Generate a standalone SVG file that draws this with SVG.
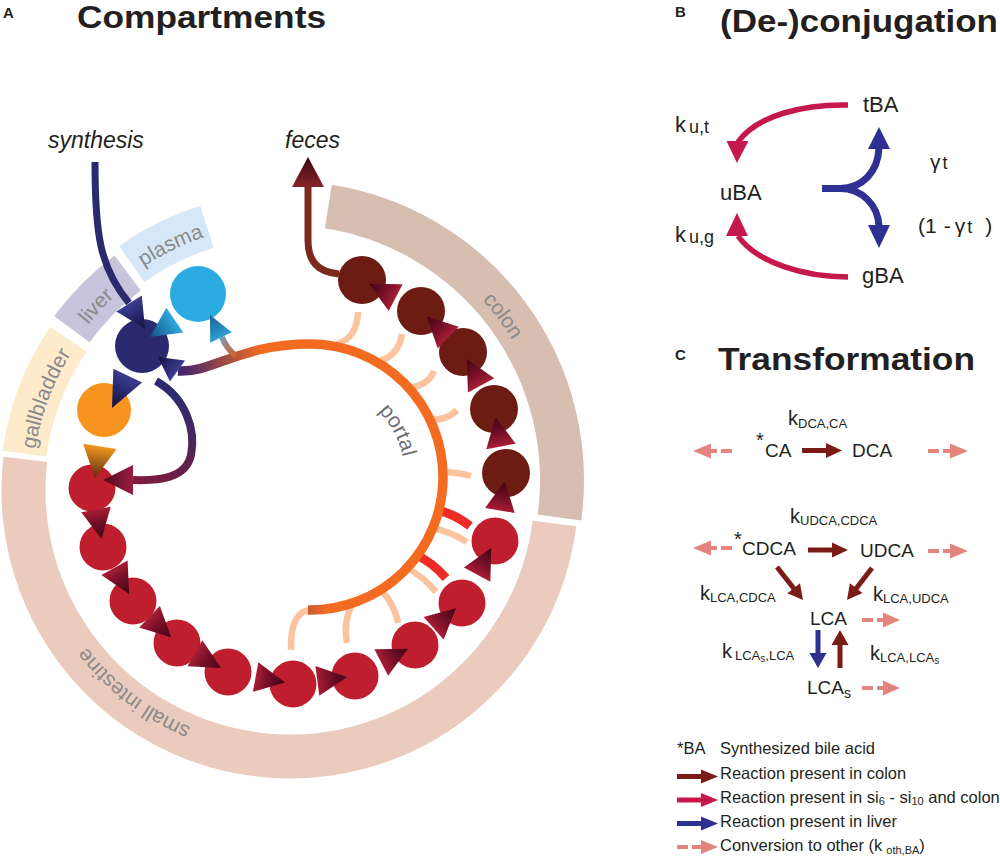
<svg xmlns="http://www.w3.org/2000/svg" width="1000" height="866" viewBox="0 0 1000 866">
<style>
text{font-family:"Liberation Sans",Arial,Helvetica,sans-serif;fill:#231f20}
.title{font-size:32px;font-weight:bold}
.plab{font-size:15px;font-weight:bold}
.ital{font-size:23px;font-style:italic}
.band{fill:none;stroke-width:44}
.blab{font-size:21px;fill:#8a8a8a}
.plbl{font-size:21px;fill:#6d6e70}
.peach{fill:none;stroke:#fbc49f;stroke-width:6.5}
.rstub{fill:none;stroke:#ee2b24;stroke-width:9}
.si{fill:#be1e2d}
.co{fill:#6d1c13}
.chain{fill:url(#gChain)}
.bnm{font-size:22px}
.bs{font-size:18px}
.nm{font-size:19px}
.kk{font-size:20px}
.sub{font-size:13px}
.leg{font-size:16.5px}
.lsub{font-size:11px}
.dash{fill:none;stroke:#e3847f;stroke-width:4;stroke-dasharray:11 4}
.pink{fill:#e3847f}
.drl{fill:none;stroke:#7b1b15;stroke-width:5}
.dr{fill:#7b1b15}
.crl{fill:none;stroke:#c5194c;stroke-width:5}
.cr{fill:#c5194c}
.nvl{fill:none;stroke:#2e3192;stroke-width:5}
.nv{fill:#2e3192}
</style>
<defs>
<linearGradient id="gChain" x1="0" y1="0" x2="1" y2="0"><stop offset="0" stop-color="#a81d36"/><stop offset="0.4" stop-color="#761027"/><stop offset="1" stop-color="#3f0515"/></linearGradient>
<linearGradient id="gNavy" x1="0" y1="0" x2="1" y2="0"><stop offset="0" stop-color="#3b3d91"/><stop offset="1" stop-color="#111140"/></linearGradient>
<linearGradient id="gPlasma" x1="0" y1="0" x2="1" y2="0"><stop offset="0" stop-color="#2fa9df"/><stop offset="1" stop-color="#12507d"/></linearGradient>
<linearGradient id="gPlasmaUp" x1="0" y1="0" x2="1" y2="0"><stop offset="0" stop-color="#2f9fd6"/><stop offset="1" stop-color="#175f8f"/></linearGradient>
<linearGradient id="gGB" x1="0" y1="0" x2="1" y2="0"><stop offset="0" stop-color="#f0961f"/><stop offset="1" stop-color="#5e2a0c"/></linearGradient>
<linearGradient id="gLS" x1="0" y1="0" x2="1" y2="0"><stop offset="0" stop-color="#9b1d42"/><stop offset="1" stop-color="#4c0a1c"/></linearGradient>
<linearGradient id="gFec" x1="0" y1="0" x2="1" y2="0"><stop offset="0" stop-color="#862526"/><stop offset="1" stop-color="#3c0512"/></linearGradient>
<linearGradient id="gPortal" gradientUnits="userSpaceOnUse" x1="182" y1="370" x2="262" y2="350"><stop offset="0" stop-color="#45266c"/><stop offset="1" stop-color="#f26b21"/></linearGradient>
<linearGradient id="gLS1" gradientUnits="userSpaceOnUse" x1="175" y1="395" x2="140" y2="482"><stop offset="0" stop-color="#2d2b6e"/><stop offset="1" stop-color="#7d1b3d"/></linearGradient>
<linearGradient id="gStem" gradientUnits="userSpaceOnUse" x1="236" y1="356" x2="222" y2="337"><stop offset="0" stop-color="#d2602b"/><stop offset="1" stop-color="#7d98b0"/></linearGradient>
<path id="ah" d="M0,0 L-30,-15 L-30,15 Z"/>
<path id="tp-si" d="M245.37,743.1 A257,257 0 0 1 57.08,598.61"/>
<path id="tp-gb" d="M32.98,467.51 A258,258 0 0 1 81.27,338.35"/>
<path id="tp-lv" d="M60.63,365.46 A261,261 0 0 1 153.63,267.46"/>
<path id="tp-pl" d="M114.83,288.49 A267,267 0 0 1 239.05,227.9"/>
<path id="tp-co" d="M389.33,234.23 A267,267 0 0 1 550.01,447.46"/>
<path id="tp-po" d="M360.34,396.44 A95,95 0 0 1 404.94,480.32"/>
</defs>

<!-- Panel A -->
<text x="3" y="18" class="plab">A</text>
<text x="77" y="28" class="title" textLength="249" lengthAdjust="spacingAndGlyphs">Compartments</text>
<text x="48" y="148" class="ital">synthesis</text>
<text x="285" y="148" class="ital">feces</text>

<g id="bands">
<path class="band" stroke="#ebcbbd" d="M554.4,523.4 A266.5,266.5 0 0 1 257.52,754.51 A266.5,266.5 0 0 1 25.27,459.37"/>
<path class="band" stroke="#fdebcb" d="M24.48,453.63 A268,268 0 0 1 68.34,339.36"/>
<path class="band" stroke="#c7c4dc" d="M71.87,329.18 A271,271 0 0 1 127.67,273"/>
<path class="band" stroke="#d6e8f7" d="M131.69,263.91 A276,276 0 0 1 207,226.77"/>
<path class="band" stroke="#d8bdb1" d="M328.33,206.41 A277,277 0 0 1 559.44,517.59"/>
<text class="blab"><textPath href="#tp-si" startOffset="50%" text-anchor="middle">small intestine</textPath></text>
<text class="blab"><textPath href="#tp-gb" startOffset="50%" text-anchor="middle">gallbladder</textPath></text>
<text class="blab"><textPath href="#tp-lv" startOffset="50%" text-anchor="middle">liver</textPath></text>
<text class="blab"><textPath href="#tp-pl" startOffset="50%" text-anchor="middle">plasma</textPath></text>
<text class="blab"><textPath href="#tp-co" startOffset="50%" text-anchor="middle">colon</textPath></text>
<text class="plbl"><textPath href="#tp-po" startOffset="50%" text-anchor="middle">portal</textPath></text>
</g>

<g id="liver"><circle cx="142" cy="346" r="27" fill="#2b2a6e"/></g>
<g id="plasma"><circle cx="198" cy="294" r="28" fill="#2aabe2"/></g>
<g id="gallbladder"><circle cx="104" cy="410" r="27" fill="#f7941d"/></g>
<g id="si1"><circle class="si" cx="92" cy="488" r="23.5"/></g>
<g id="si2"><circle class="si" cx="103" cy="547" r="23.5"/></g>
<g id="si3"><circle class="si" cx="133" cy="601" r="23.5"/></g>
<g id="si4"><circle class="si" cx="177" cy="643" r="23.5"/></g>
<g id="si5"><circle class="si" cx="228" cy="672" r="23.5"/></g>
<g id="si6"><circle class="si" cx="293" cy="684" r="23.5"/></g>
<g id="si7"><circle class="si" cx="355" cy="676" r="23.5"/></g>
<g id="si8"><circle class="si" cx="415" cy="645" r="23.5"/></g>
<g id="si9"><circle class="si" cx="462" cy="603" r="23.5"/></g>
<g id="si10"><circle class="si" cx="495" cy="541" r="23.5"/></g>
<g id="colon1"><circle class="co" cx="506" cy="473" r="24"/></g>
<g id="colon2"><circle class="co" cx="494" cy="409" r="24"/></g>
<g id="colon3"><circle class="co" cx="463" cy="352" r="24"/></g>
<g id="colon4"><circle class="co" cx="421" cy="311" r="24"/></g>
<g id="colon5"><circle class="co" cx="362" cy="280" r="24"/></g>

<g id="connectors">
<path class="peach" d="M337,344 Q357,338 358,312"/>
<path class="peach" d="M377,362 Q399,356 402,334"/>
<path class="peach" d="M408,388 Q428,386 434,371"/>
<path class="peach" d="M430,420 Q448,420 457,410"/>
<path class="peach" d="M441,472 Q457,472 471,476"/>
<path class="rstub" d="M437,510 Q455,514 470,526"/>
<path class="peach" d="M432,528 Q452,532 467,542"/>
<path class="rstub" d="M416,555 Q432,562 446,578"/>
<path class="peach" d="M407,568 Q424,577 436,592"/>
<path class="peach" d="M381,590 Q395,605 398,623"/>
<path class="peach" d="M352,605 Q343,622 347,643"/>
<path class="peach" d="M312,610 Q290,610 291,650"/>
<path d="M178,371 C213,373 240,344 310,344 A133,133 0 0 1 443,477 A133,133 0 0 1 308,610" fill="none" stroke="url(#gPortal)" stroke-width="9.5"/>
<path d="M236,356 Q226,348 222,337" fill="none" stroke="url(#gStem)" stroke-width="6"/>
<path d="M95,162 C95,235 100,268 129,303" fill="none" stroke="#2b2a6e" stroke-width="7"/>
<path d="M156,381 C186,398 196,430 191,455 C186,478 160,481 133,480" fill="none" stroke="url(#gLS1)" stroke-width="8"/>
<path d="M339,274 C318,272 308,262 308,240 L308,186" fill="none" stroke="#7c2a1e" stroke-width="7"/>
<path d="M0,0 L-30,-15 L-30,15 Z" fill="url(#gNavy)" transform="translate(145,329) rotate(58)"/>
<path d="M0,0 L-36,-16 L-36,16 Z" fill="url(#gNavy)" transform="translate(112,408) rotate(115.9)"/>
<path d="M0,0 L-24,-13 L-24,13 Z" fill="url(#gNavy)" transform="translate(158,357) rotate(-144.3)"/>
<path d="M0,0 L-30,-15 L-30,15 Z" fill="url(#gPlasma)" transform="translate(150,337) rotate(145.8)"/>
<path d="M0,0 L-25,-12 L-25,12 Z" fill="url(#gPlasmaUp)" transform="translate(210,315) rotate(-116)"/>
<path d="M0,0 L-32,-17 L-32,17 Z" fill="url(#gGB)" transform="translate(95,478) rotate(98.7)"/>
<path d="M0,0 L-30,-15 L-30,15 Z" fill="url(#gLS)" transform="translate(103,480) rotate(180)"/>
<path d="M0,0 L-30,-16 L-30,16 Z" fill="url(#gFec)" transform="translate(308,157) rotate(-90)"/>
<use href="#ah" class="chain" transform="translate(101.5,539.1) rotate(79.4)"/>
<use href="#ah" class="chain" transform="translate(129.1,594) rotate(60.9)"/>
<use href="#ah" class="chain" transform="translate(171.2,637.5) rotate(43.7)"/>
<use href="#ah" class="chain" transform="translate(221,668) rotate(29.6)"/>
<use href="#ah" class="chain" transform="translate(285.1,682.5) rotate(10.5)"/>
<use href="#ah" class="chain" transform="translate(347.1,677) rotate(-7.4)"/>
<use href="#ah" class="chain" transform="translate(407.9,648.7) rotate(-27.3)"/>
<use href="#ah" class="chain" transform="translate(456,608.3) rotate(-41.8)"/>
<use href="#ah" class="chain" transform="translate(491.2,548.1) rotate(-62)"/>
<use href="#ah" class="chain" transform="translate(504.7,480.9) rotate(-80.8)"/>
<use href="#ah" class="chain" transform="translate(495.5,416.9) rotate(-100.6)"/>
<use href="#ah" class="chain" transform="translate(466.8,359) rotate(-118.5)"/>
<use href="#ah" class="chain" transform="translate(426.7,316.6) rotate(-135.7)"/>
<use href="#ah" class="chain" transform="translate(369.1,283.7) rotate(-152.3)"/>

<!-- Panel B connectors -->
<path d="M848,105 C805,104 757,115 738,142" fill="none" stroke="#c5194c" stroke-width="5.5"/>
<polygon class="cr" points="726.5,141 748.5,141 737,163"/>
<path d="M848,277 C805,277 757,263 738,236" fill="none" stroke="#c5194c" stroke-width="5.5"/>
<polygon class="cr" points="726,236 748,236 737,213"/>
<path d="M822,188.5 L840,188.5 C862,188.5 878,172 879,148 M840,188.5 C862,188.5 878,205 879,226" fill="none" stroke="#2e3192" stroke-width="7"/>
<polygon class="nv" points="868,149 890,149 879,127"/>
<polygon class="nv" points="868,225 890,225 879,248"/>

<!-- Panel C connectors -->
<path class="drl" d="M802,450.5 H828"/><polygon class="dr" points="826,443 842,450.5 826,458"/>
<path class="drl" d="M808,550 H834"/><polygon class="dr" points="832,542.5 848,550 832,557.5"/>
<path class="drl" d="M777,567 L795,590"/><polygon class="dr" points="787.4,593.2 803,600 800,583.3"/>
<path class="drl" d="M872,568 L855,590"/><polygon class="dr" points="849.9,583.3 847,600 862.5,593.1"/>
<path class="nvl" d="M818,630 V656"/><polygon class="nv" points="809.5,653 818,668 826.5,653"/>
<path class="drl" d="M840,668 V642"/><polygon class="dr" points="831.5,645 840,630 848.5,645"/>
<path class="dash" d="M732,451 H711"/><polygon class="pink" points="693,451 711,443.5 711,458.5"/>
<path class="dash" d="M928,451 H951"/><polygon class="pink" points="950,443.5 968,451 950,458.5"/>
<path class="dash" d="M732,548 H711"/><polygon class="pink" points="693,548 711,540.5 711,555.5"/>
<path class="dash" d="M928,551 H951"/><polygon class="pink" points="950,543.5 968,551 950,558.5"/>
<path class="dash" d="M862,620 H884"/><polygon class="pink" points="883,612.5 900,620 883,627.5"/>
<path class="dash" d="M862,688 H884"/><polygon class="pink" points="883,680.5 900,688 883,695.5"/>
</g>

<!-- Panel B -->
<text x="675" y="17" class="plab" font-size="14">B</text>
<text x="720" y="32" class="title" font-size="32.5" textLength="278" lengthAdjust="spacingAndGlyphs">(De-)conjugation</text>
<g id="tBA"><text x="863" y="112" class="bnm">tBA</text></g>
<g id="uBA"><text x="720" y="200" class="bnm">uBA</text></g>
<g id="gBA"><text x="862" y="283" class="bnm">gBA</text></g>
<text x="675" y="132" class="bnm">k<tspan class="bs" dx="3" dy="1">u,t</tspan></text>
<text x="675" y="242" class="bnm">k<tspan class="bs" dx="3" dy="1">u,g</tspan></text>
<text x="930" y="169" font-size="21">γ<tspan font-size="18" dx="2">t</tspan></text>
<text x="918" y="233" font-size="21">(1<tspan dx="7">-</tspan><tspan dx="4">γ</tspan><tspan font-size="18" dx="2">t</tspan><tspan dx="13">)</tspan></text>

<!-- Panel C -->
<text x="675" y="360" class="plab" font-size="14">C</text>
<text x="718" y="370" class="title" textLength="257" lengthAdjust="spacingAndGlyphs">Transformation</text>
<text x="788" y="425" class="kk">k<tspan class="sub" dy="3">DCA,CA</tspan></text>
<g id="CA"><text x="756" y="447" class="kk">*</text><text x="765" y="457" class="nm">CA</text></g>
<g id="DCA"><text x="852" y="457" class="nm">DCA</text></g>
<text x="790" y="523" class="kk">k<tspan class="sub" dy="2">UDCA,CDCA</tspan></text>
<g id="CDCA"><text x="734" y="546" class="kk">*</text><text x="742" y="555" class="nm">CDCA</text></g>
<g id="UDCA"><text x="860" y="557" class="nm">UDCA</text></g>
<text x="700" y="600" class="kk">k<tspan class="sub" dy="2">LCA,CDCA</tspan></text>
<text x="873" y="601" class="kk">k<tspan class="sub" dy="2">LCA,UDCA</tspan></text>
<g id="LCA"><text x="810" y="625" class="nm">LCA</text></g>
<text x="722" y="658" class="kk">k<tspan class="sub" dx="3" dy="2">LCA<tspan font-size="10" dy="2">s</tspan><tspan dy="-2">,LCA</tspan></tspan></text>
<text x="870" y="660" class="kk">k<tspan class="sub" dy="2">LCA,LCA<tspan font-size="10" dy="2">s</tspan></tspan></text>
<g id="LCAs"><text x="807" y="694" class="nm">LCA<tspan font-size="14" dy="4">s</tspan></text></g>

<!-- Legend -->
<g id="legend">
<text x="677" y="754" class="leg">*BA</text>
<text x="720" y="754" class="leg">Synthesized bile acid</text>
<path class="drl" stroke-width="4.5" d="M677,776.5 H703"/><polygon class="dr" points="701,769.5 718,776.5 701,783.5"/>
<text x="720" y="779" class="leg">Reaction present in colon</text>
<path class="crl" stroke-width="4.5" d="M677,800 H703"/><polygon class="cr" points="701,793 718,800 701,807"/>
<text x="720" y="803" class="leg">Reaction present in si<tspan class="lsub" dy="2">6</tspan><tspan dy="-2"> - si</tspan><tspan class="lsub" dy="2">10</tspan><tspan dy="-2"> and colon</tspan></text>
<path class="nvl" stroke-width="4.5" d="M677,823.5 H703"/><polygon class="nv" points="701,816.5 718,823.5 701,830.5"/>
<text x="720" y="827" class="leg">Reaction present in liver</text>
<path class="dash" d="M677,847 H703"/><polygon class="pink" points="701,840 718,847 701,854"/>
<text x="720" y="851" class="leg">Conversion to other (k<tspan class="lsub" dx="4" dy="3">oth,BA</tspan><tspan dy="-3">)</tspan></text>
</g>
</svg>
